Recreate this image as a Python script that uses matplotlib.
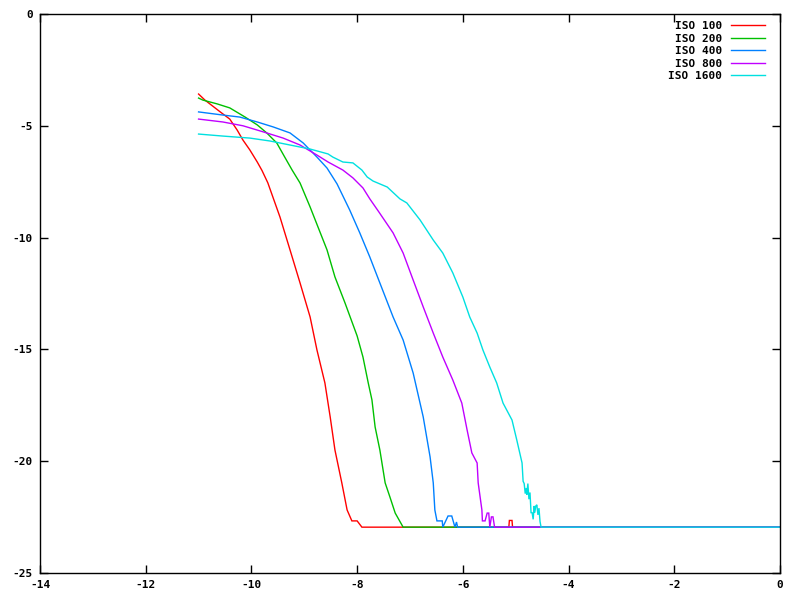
import matplotlib
matplotlib.use("Agg")
import matplotlib.pyplot as plt

FLOOR = -22.95

labels = ["ISO 100", "ISO 200", "ISO 400", "ISO 800", "ISO 1600"]
colors = ["#ff0000", "#00c000", "#0080ff", "#c000ff", "#00e0e0"]

iso100_x = [-11.0, -10.88, -10.59, -10.41, -10.27, -10.16, -10.03, -9.89, -9.80, -9.69, -9.46,
            -9.27, -9.08, -8.89, -8.76, -8.61, -8.51, -8.42, -8.29, -8.19, -8.10, -8.00, -7.91,
            -5.13, -5.12, -5.07, -5.06, 0.0]
iso100_y = [-3.58, -3.85, -4.38, -4.70, -5.19, -5.64, -6.08, -6.62, -7.00, -7.55, -9.08,
            -10.55, -12.03, -13.55, -15.03, -16.50, -18.02, -19.50, -20.97, -22.18, -22.67, -22.67, FLOOR,
            FLOOR, -22.65, -22.65, FLOOR, FLOOR]

iso200_x = [-11.0, -10.92, -10.65, -10.41, -10.12, -9.89, -9.71, -9.52, -9.37, -9.23, -9.08,
            -8.89, -8.74, -8.57, -8.42, -8.23, -8.00, -7.89, -7.79, -7.72, -7.66, -7.57,
            -7.47, -7.38, -7.28, -7.13, 0.0]
iso200_y = [-3.76, -3.85, -4.02, -4.20, -4.61, -4.96, -5.32, -5.77, -6.40, -6.98, -7.56,
            -8.63, -9.53, -10.55, -11.76, -12.92, -14.40, -15.34, -16.50, -17.26, -18.47, -19.50,
            -20.97, -21.60, -22.32, FLOOR, FLOOR]

iso400_x = [-11.0, -10.54, -10.22, -9.89, -9.59, -9.27, -9.02, -8.76, -8.57, -8.38, -8.14,
            -7.95, -7.76, -7.57, -7.32, -7.13, -6.94, -6.75, -6.62, -6.56, -6.53, -6.49,
            -6.39, -6.38, -6.28, -6.21, -6.15, -6.12, -6.10, -6.08, 0.0]
iso400_y = [-4.38, -4.52, -4.61, -4.83, -5.05, -5.32, -5.77, -6.40, -6.89, -7.60, -8.77,
            -9.79, -10.87, -12.03, -13.55, -14.58, -16.06, -18.02, -19.81, -20.97, -22.18, -22.67,
            -22.67, FLOOR, -22.45, -22.45, FLOOR, -22.72, FLOOR, FLOOR, FLOOR]

iso800_x = [-11.0, -10.54, -10.16, -9.78, -9.40, -9.08, -8.76, -8.55, -8.27, -8.08, -7.89,
            -7.76, -7.59, -7.32, -7.13, -6.94, -6.75, -6.56, -6.38, -6.19, -6.02, -5.92,
            -5.83, -5.73, -5.71, -5.64, -5.63, -5.58, -5.54, -5.51, -5.49, -5.46, -5.43,
            -5.40, 0.0]
iso800_y = [-4.70, -4.83, -5.00, -5.27, -5.55, -5.86, -6.31, -6.62, -6.98, -7.33, -7.78,
            -8.27, -8.85, -9.79, -10.69, -11.90, -13.10, -14.27, -15.34, -16.37, -17.40, -18.60,
            -19.63, -20.08, -20.97, -22.18, -22.67, -22.67, -22.32, -22.32, FLOOR, -22.49, -22.49,
            FLOOR, FLOOR]

iso1600_x = [-11.0, -10.54, -10.03, -9.65, -9.27, -8.89, -8.55, -8.46, -8.27, -8.08, -7.91,
             -7.81, -7.70, -7.43, -7.19, -7.06, -6.81, -6.56, -6.38, -6.19, -6.00, -5.87,
             -5.73, -5.62, -5.49, -5.36, -5.24, -5.07, -4.98, -4.88, -4.86, -4.84, -4.82,
             -4.80, -4.79, -4.77, -4.75, -4.73, -4.71, -4.69, -4.67, -4.65, -4.64, -4.62,
             -4.60, -4.58, -4.56, -4.54, -4.52, 0.0]
iso1600_y = [-5.37, -5.46, -5.55, -5.68, -5.86, -6.04, -6.26, -6.40, -6.62, -6.66, -6.98,
             -7.29, -7.47, -7.74, -8.27, -8.45, -9.21, -10.11, -10.69, -11.58, -12.66, -13.55,
             -14.27, -15.03, -15.79, -16.50, -17.40, -18.16, -19.05, -20.08, -20.90, -21.00, -21.45,
             -21.20, -21.50, -21.00, -21.70, -21.40, -22.30, -22.30, -22.60, -22.00, -22.30, -22.00,
             -21.95, -22.40, -22.10, -22.70, FLOOR, FLOOR]

series_x = [iso100_x, iso200_x, iso400_x, iso800_x, iso1600_x]
series_y = [iso100_y, iso200_y, iso400_y, iso800_y, iso1600_y]

xticks = [-14, -12, -10, -8, -6, -4, -2, 0]
yticks = [0, -5, -10, -15, -20, -25]

fig = plt.figure(figsize=(8, 6), dpi=100)
ax = fig.add_axes([0.05, 0.045, 0.925, 0.9317])

for xs, ys, c, lab in zip(series_x, series_y, colors, labels):
    ax.plot(xs, ys, color=c, lw=1.0, label=lab, solid_joinstyle="miter")

ax.set_xlim(-14, 0)
ax.set_ylim(-25, 0)
ax.set_xticks(xticks)
ax.set_yticks(yticks)

font = dict(family="DejaVu Sans Mono", weight="bold", size=8)
ax.set_xticklabels([str(v) for v in xticks], fontdict=font)
ax.set_yticklabels([str(v) for v in yticks], fontdict=font)
ax.tick_params(direction="in", length=6, width=1, top=True, right=True, pad=5)
for s in ax.spines.values():
    s.set_linewidth(1)

leg = ax.legend(loc="upper right", bbox_to_anchor=(0.9857, 0.995), borderaxespad=0,
                frameon=False, markerfirst=False,
                prop=dict(family="DejaVu Sans Mono", weight="bold", size=8),
                handlelength=3.1, labelspacing=0.22, handletextpad=0.75)

fig.savefig("out.png", dpi=100)
